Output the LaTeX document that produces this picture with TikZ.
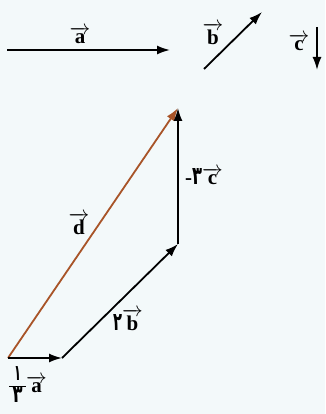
\documentclass[tikz,border=0pt]{standalone}
\usepackage{fontspec}
\usepackage{graphicx}
\setmainfont{Liberation Serif}
\newfontfamily\fa{DejaVu Sans}
\usetikzlibrary{arrows.meta}
\definecolor{bgc}{RGB}{243,249,250}
\definecolor{dbrown}{RGB}{168,84,40}
\newcommand{\vv}[1]{\ensuremath{\overrightarrow{\textbf{#1}}}}
\newcommand{\fd}[3]{\mbox{\resizebox{#1}{#2}{\fa\bfseries #3}}}
\begin{document}
\begin{tikzpicture}[x=1pt,y=-1pt,
  vecline/.style={line width=1.8pt,-{Latex[length=13pt,width=9pt]}},
  lbl/.style={inner sep=0pt,font=\fontsize{21}{23}\selectfont}]
\fill[bgc] (0,0) rectangle (325,414);
\useasboundingbox (0,0) rectangle (325,414);
% free vectors
\coordinate (a0) at (7,50);   \coordinate (a1) at (170,50);
\coordinate (b0) at (204,69); \coordinate (b1) at (262,12);
\coordinate (c0) at (317,27); \coordinate (c1) at (317,70);
\draw[vecline] (a0) -- (a1);
\draw[vecline] (b0) -- (b1);
\draw[vecline] (c0) -- (c1);
\node[lbl] (la) at (80,35) {\vv{a}};
\node[lbl] (lb) at (213,34) {\vv{b}};
\node[lbl] (lc) at (299,42) {\vv{c}};
% polygon
\coordinate (O) at (8,358);
\coordinate (P) at (62,358);
\coordinate (Q) at (178,244);
\coordinate (R) at (178,108);
\draw[vecline,dbrown] (O) -- (R);
\draw[vecline] (O) -- (P);
\draw[vecline] (P) -- (Q);
\draw[vecline] (Q) -- (R);
\node[lbl] (ld) at (79,224) {\vv{d}};
\node[lbl] (l2b) at (128,320) {\fd{9pt}{16pt}{۲}\vv{b}};
\node[lbl] (l3c) at (204,176) {\textbf{-}\fd{10pt}{16pt}{۳}\vv{c}};
\node[lbl] (l13a) at (28,387) {\setlength{\arrayrulewidth}{1.3pt}\renewcommand{\arraystretch}{0.8}%
  \begin{tabular}{@{\,}c@{\,}}\fd{7pt}{14pt}{۱}\\\hline\fd{10pt}{15pt}{۳}\end{tabular}\vv{a}};
\end{tikzpicture}
\end{document}
